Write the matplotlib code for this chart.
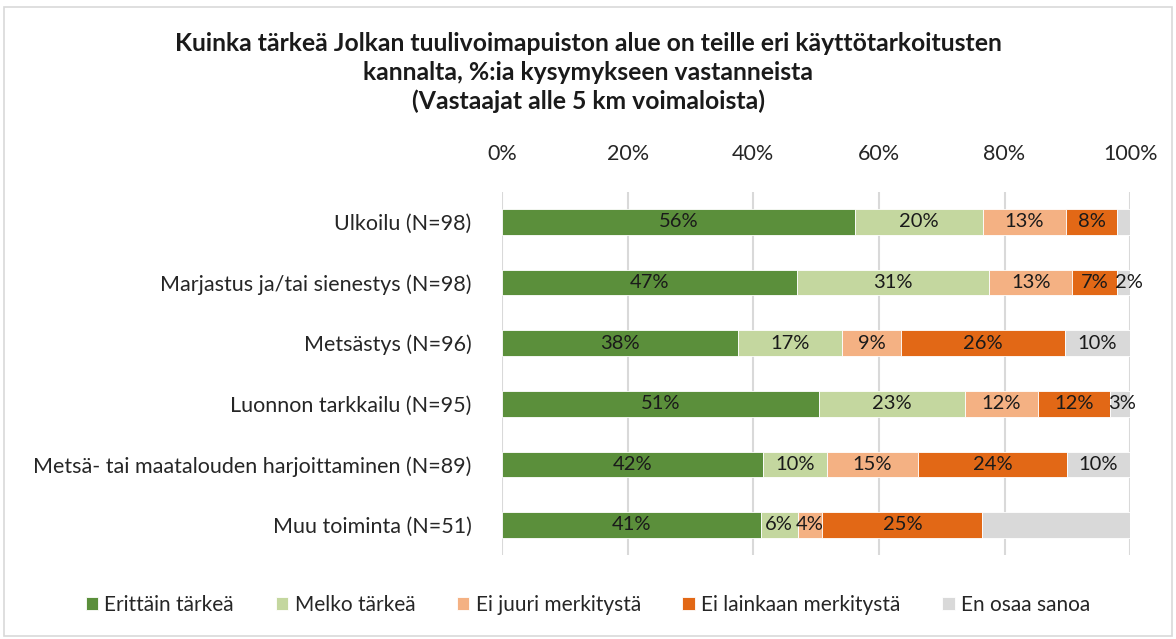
import numpy as np
import matplotlib.pyplot as plt
from matplotlib.patches import Rectangle

plt.rcParams['font.family'] = ['Lato', 'DejaVu Sans']

categories = ["Ulkoilu (N=98)", "Marjastus ja/tai sienestys (N=98)", "Metsästys (N=96)",
              "Luonnon tarkkailu (N=95)", "Metsä- tai maatalouden harjoittaminen (N=89)",
              "Muu toiminta (N=51)"]
series = ["Erittäin tärkeä", "Melko tärkeä", "Ei juuri merkitystä",
          "Ei lainkaan merkitystä", "En osaa sanoa"]
erittain = [56.12, 46.94, 37.50, 50.53, 41.57, 41.18]
melko = [20.41, 30.61, 16.67, 23.16, 10.11, 5.88]
ei_juuri = [13.27, 13.27, 9.38, 11.58, 14.61, 3.92]
ei_lainkaan = [8.16, 7.14, 26.04, 11.58, 23.60, 25.49]
en_osaa = [2.04, 2.04, 10.42, 3.16, 10.11, 23.53]
# labels missing in the original for these (category index, series index)
hidden = [(0, 4), (5, 4)]

colors = ["#5B8F3B", "#C4D79F", "#F4B183", "#E26816", "#D9D9D9"]
title = ("Kuinka tärkeä Jolkan tuulivoimapuiston alue on teille eri käyttötarkoitusten\n"
         "kannalta, %:ia kysymykseen vastanneista\n(Vastaajat alle 5 km voimaloista)")

data = np.array([erittain, melko, ei_juuri, ei_lainkaan, en_osaa])

fig = plt.figure(figsize=(11.76, 6.39), dpi=100)
ax = fig.add_axes([0.427, 0.131, 0.534, 0.569])

y = np.arange(len(categories))
left = np.zeros(len(categories))
for i, (name, vals) in enumerate(zip(series, data)):
    ax.barh(y, vals, left=left, height=0.42, color=colors[i], label=name,
            edgecolor="white", linewidth=0.6, zorder=3)
    for j, v in enumerate(vals):
        if (j, i) in hidden:
            continue
        txt = f"{int(v + 0.5)}%"
        if i == 4 and v < 5:
            ax.text(left[j] - 0.4, y[j], txt, ha="left", va="center",
                    fontsize=14.5, color="#1a1a1a", zorder=4)
            continue
        ax.text(left[j] + v / 2, y[j], txt, ha="center", va="center",
                fontsize=14.5, color="#1a1a1a", zorder=4)
    left += vals

ax.set_xlim(0, 100)
ax.set_ylim(len(categories) - 0.5, -0.5)
ax.set_yticks(y)
ax.set_yticklabels(categories, fontsize=15.5, color="#262626")
ax.set_xticks(np.arange(0, 101, 20))
ax.set_xticklabels([f"{t}%" for t in range(0, 101, 20)], fontsize=15.5, color="#262626")
ax.xaxis.tick_top()
ax.tick_params(axis="x", length=0, pad=20)
ax.tick_params(axis="y", length=0, pad=22)
ax.grid(axis="x", color="#D9D9D9", linewidth=1.5, zorder=0)
for s in ax.spines.values():
    s.set_visible(False)

fig.suptitle(title, x=0.5, y=0.95, fontsize=17.8, fontweight="bold",
             color="#1a1a1a", linespacing=1.3)

handles, labels = ax.get_legend_handles_labels()
fig.legend(handles, labels, loc="center", bbox_to_anchor=(0.5, 0.053), ncol=5,
           frameon=False, fontsize=15, handlelength=0.6, handleheight=0.6,
           handletextpad=0.3, columnspacing=2.0, labelcolor="#262626")

fig.add_artist(Rectangle((0.003, 0.004), 0.994, 0.985, transform=fig.transFigure,
                         fill=False, edgecolor="#D9D9D9", linewidth=1.2))

fig.savefig("out.png", dpi=100)
